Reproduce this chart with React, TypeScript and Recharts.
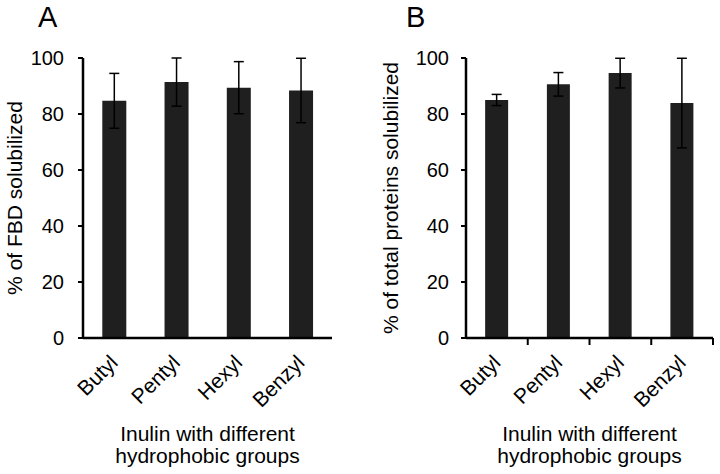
import React from 'react';
import { BarChart, Bar, XAxis, YAxis, ErrorBar, Label } from 'recharts';

const groups = ['Butyl', 'Pentyl', 'Hexyl', 'Benzyl'];
const fbdMean = [84.7, 91.4, 89.4, 88.4];
const fbdSd = [9.8, 8.6, 9.3, 11.5];
const proteinMean = [85.0, 90.6, 94.6, 83.9];
const proteinSd = [2.0, 4.2, 5.3, 16.0];
const yTicks = [0, 20, 40, 60, 80, 100];

const FONT = '"Liberation Sans", Arial, Helvetica, sans-serif';
const BAR = '#1f1f1f';
const W = 360;
const H = 474;
const TOP = 58;
const PLOT_H = 280;
const AXIS_Y = TOP + PLOT_H;

interface PanelProps {
  letter: string;
  yTitle: string;
  means: number[];
  sds: number[];
  left: number; // margin left of y-axis area
  right: number;
  tickMargin: number;
  xTicks: boolean;
  titleX: number;
  letterX: number;
}

function Panel({ letter, yTitle, means, sds, left, right, tickMargin, xTicks, titleX, letterX }: PanelProps) {
  const data = groups.map((g, i) => ({ group: g, mean: means[i], sd: sds[i] }));
  const plotLeft = left + 60;
  const plotW = W - plotLeft - right;
  const band = plotW / groups.length;
  const cx = plotLeft + plotW / 2;

  const catTick = (props: any) => {
    const { x, payload } = props;
    return (
      <g>
        {xTicks && (
          <line
            x1={x + band / 2}
            x2={x + band / 2}
            y1={AXIS_Y}
            y2={AXIS_Y + 7}
            stroke="#000"
            strokeWidth={2}
          />
        )}
        <g transform={`translate(${x + 5},${AXIS_Y + 26})`}>
          <text x={0} y={0} textAnchor="end" fontSize={21} fontFamily={FONT} fill="#000" transform="rotate(-45)">
            {payload.value}
          </text>
        </g>
      </g>
    );
  };

  return (
    <div style={{ position: 'relative', width: W, height: H }}>
      <div
        style={{
          position: 'absolute',
          left: letterX,
          top: 0,
          fontFamily: FONT,
          fontSize: 29,
          lineHeight: '34px',
          color: '#000',
        }}
      >
        {letter}
      </div>
      <BarChart
        width={W}
        height={H}
        data={data}
        margin={{ top: TOP, right, left, bottom: H - TOP - PLOT_H - 60 }}
        barCategoryGap="31%"
      >
        <XAxis
          dataKey="group"
          height={60}
          axisLine={{ stroke: '#000', strokeWidth: 2.5 }}
          tickLine={false}
          tickSize={0}
          tickMargin={0}
          interval={0}
          tick={catTick}
        >
          <Label
            content={() => (
              <text textAnchor="middle" fontSize={21} fontFamily={FONT} fill="#000">
                <tspan x={cx} y={441}>Inulin with different</tspan>
                <tspan x={cx} y={463}>hydrophobic groups</tspan>
              </text>
            )}
          />
        </XAxis>
        <YAxis
          width={60}
          domain={[0, 100]}
          ticks={yTicks}
          interval={0}
          axisLine={{ stroke: '#000', strokeWidth: 2.5 }}
          tickLine={{ stroke: '#000', strokeWidth: 2 }}
          tickSize={5}
          tickMargin={tickMargin}
          tick={{ fontSize: 20, fontFamily: FONT, fill: '#000' }}
        >
          <Label
            content={() => (
              <text
                x={titleX}
                y={TOP + PLOT_H / 2}
                textAnchor="middle"
                fontSize={21}
                fontFamily={FONT}
                fill="#000"
                transform={`rotate(-90, ${titleX}, ${TOP + PLOT_H / 2})`}
              >
                {yTitle}
              </text>
            )}
          />
        </YAxis>
        <Bar dataKey="mean" fill={BAR} isAnimationActive={false}>
          <ErrorBar dataKey="sd" width={5} stroke="#000" strokeWidth={1.5} isAnimationActive={false} />
        </Bar>
      </BarChart>
    </div>
  );
}

export default function App() {
  return (
    <div style={{ position: 'absolute', left: 0, top: 0, width: 720, height: 474, background: '#fff' }}>
      <div style={{ position: 'absolute', left: 0, top: 0 }}>
        <Panel
          letter="A"
          yTitle="% of FBD solubilized"
          means={fbdMean}
          sds={fbdSd}
          left={23}
          right={28}
          tickMargin={14}
          xTicks={false}
          titleX={22}
          letterX={38}
        />
      </div>
      <div style={{ position: 'absolute', left: 360, top: 0 }}>
        <Panel
          letter="B"
          yTitle="% of total proteins solubilized"
          means={proteinMean}
          sds={proteinSd}
          left={46}
          right={7}
          tickMargin={12}
          xTicks={true}
          titleX={38}
          letterX={46}
        />
      </div>
    </div>
  );
}
